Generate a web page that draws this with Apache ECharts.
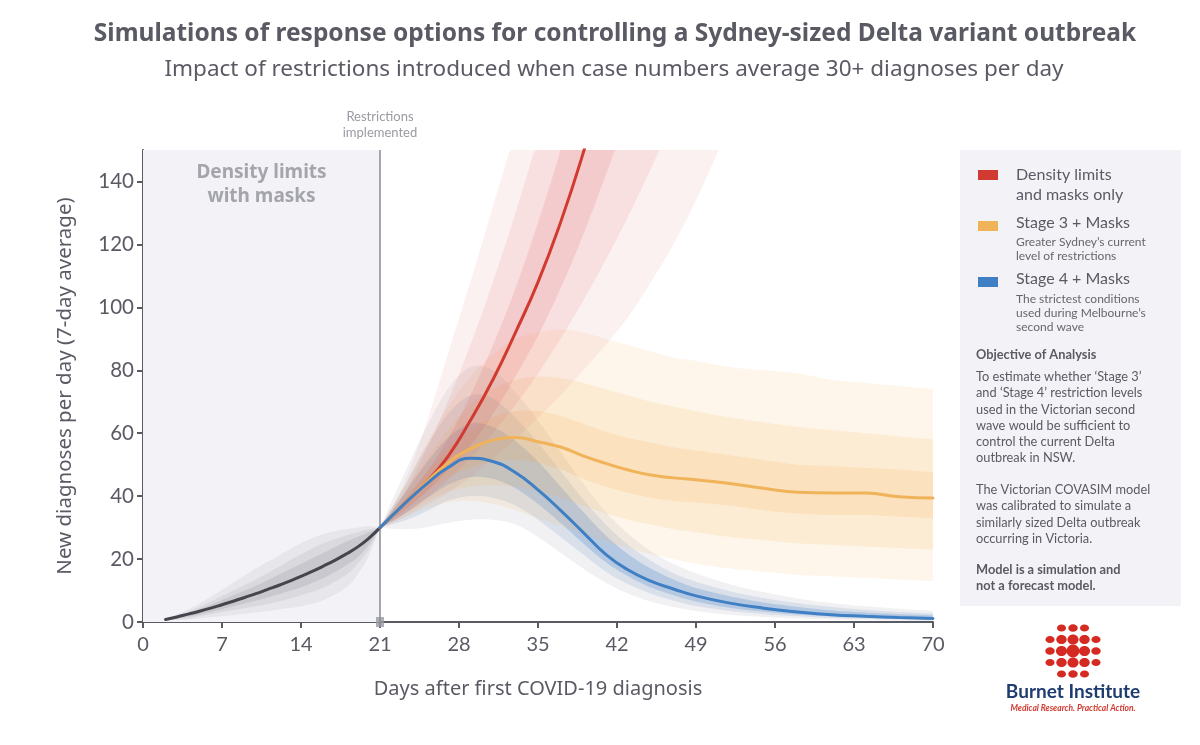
<!DOCTYPE html>
<html><head><meta charset="utf-8">
<script src="https://cdn.jsdelivr.net/npm/echarts@6/dist/echarts.min.js"></script>
<style>html,body{margin:0;padding:0;background:#fff}#c{width:1200px;height:745px}</style>
</head><body><div id="c"></div>
<script>
// ---------- data ----------
const xTicks = [0, 7, 14, 21, 28, 35, 42, 49, 56, 63, 70];
const yTicks = [0, 20, 40, 60, 80, 100, 120, 140];
const restrictionDay = 21;

// pre-restriction period (density limits with masks)
const preDays   = [2,3,4,5,6,7,8,9,10,11,12,13,14,15,16,17,18,19,20,21];
const preMedian = [0.8,1.6,2.5,3.4,4.4,5.5,6.6,7.8,9.0,10.3,11.6,13.0,14.5,16.1,17.8,19.6,21.6,23.8,26.6,30];
const preBandDays = [2,4,6,8,10,12,14,16,18,19,20,21];
const preOuterHi = [1,4,8,12.5,17,21,25,28,29.5,30,30.5,30];
const preOuterLo = [0.5,0.8,1.5,2.2,3,4,5,7,11,15,21,30];
const preMidHi   = [0.9,3.2,6.5,10,13.5,17.5,21.5,25,27.5,28.5,29.5,30];
const preMidLo   = [0.6,1.2,2.5,3.8,5,6.5,8.5,11,15,18.5,23,30];
const preInnerHi = [0.85,2.8,5.5,8.5,11.5,15,18.5,22,25.5,27,28.5,30];
const preInnerLo = [0.7,1.7,3.2,5,6.8,8.8,11,14,18,20.5,24.5,30];

// Density limits and masks only (red)
const redDays     = [21,23,25,27,29,31,33,35,37,39,41,43,45,47,49,51,53];
const redMedian   = [30,37,44,52.5,64,77,92,108,127,149,174,202,232,265,300,340,380];
const redOuterHi  = [30,43,62,85,108,132,157,188,220,255,292,330,370,412,456,500,546];
const redOuterLo  = [30,33,37,41,46,52,58,65,72,80,88,97,108,120,134,150,167];
const redMidHi    = [30,40,54,70,88,108,130,154,180,210,240,272,306,342,380,420,460];
const redMidLo    = [30,34,39,45,52,60,69,79,90,102,115,129,144,160,177,195,214];
const redInnerHi  = [30,38,47,58,72,88,106,127,150,176,204,234,266,300,336,374,414];
const redInnerLo  = [30,35,41,48,56,66,78,91,106,123,142,162,184,208,233,260,288];

// Stage 3 + Masks (orange) and Stage 4 + Masks (blue)
const postDays = [21,23,25,27,29,31,33,35,37,39,41,43,45,47,49,52,55,58,61,64,67,70];
const orMedian  = [30,37,44,50.5,55,57.8,58.6,57.3,55.6,52.8,50.4,48.3,46.7,45.8,45.2,44,42.5,41.2,41,41,39.8,39.4];
const orOuterHi = [30,42,56,68,78,85,90,92,93,92,90,88,86,84,83,81,80,79,77,76,75,74];
const orOuterLo = [30,33,36,38,38.5,37.5,35.5,33,30.5,28,25.5,23.5,21.5,20,18.5,17,16,15,14.5,14,13.5,13];
const orMidHi   = [30,40,51,61,69,74,77,78,77.5,76,74,72,70,68.5,67,65,63.5,62,61,60,59,58];
const orMidLo   = [30,34,38,41.5,43,43.5,43,41.5,39.5,37,34.5,32.5,31,29.5,28.5,27,26,25,24.5,24,23.5,23];
const orInnerHi = [30,38.5,47,55,61,65,67,67,65.5,63,60.5,58.5,57,55.5,54.5,53,51.5,50,49.5,49,48.5,47.5];
const orInnerLo = [30,35.5,41,46,49,51,51.5,50.5,48.5,45.5,43,41,39.5,38.5,38,37,35.5,34.5,34,34,33.5,33];

const blMedian  = [30,37,43.5,49,52,51,47.5,42,35.5,28.5,21.5,16.5,13,10.5,8.3,6,4.4,3.2,2.3,1.8,1.4,1.1];
const blOuterHi = [30,46,61,74,81,80,73,64,54,44,35,28,22.5,18.5,15.5,12,9.5,7.5,6,5,4.2,3.6];
const blOuterLo = [30,29.5,30,31.5,32.5,32.5,31,27,22,17,12.5,9,6.5,4.8,3.5,2.3,1.6,1.1,0.8,0.6,0.4,0.3];
const blMidHi   = [30,42,55,66,72,71,65,57,48,39,31,24.5,19.5,15.5,12.8,9.8,7.6,6,4.8,3.9,3.2,2.7];
const blMidLo   = [30,32,35,38.5,40,39.5,37,32.5,27,21.5,16,12,9,6.8,5.1,3.5,2.5,1.8,1.3,1.0,0.8,0.6];
const blInnerHi = [30,40,50,58.5,63,62,57.5,51,43,35,27.5,21.5,17,13.5,10.8,8.2,6.2,4.8,3.7,3,2.5,2.1];
const blInnerLo = [30,34,39,43.5,46,45.5,42.5,37.5,31.5,25,19,14.5,11,8.5,6.5,4.5,3.3,2.4,1.8,1.4,1.1,0.85];

// ---------- styles ----------
const FONT = 'Lato, "Noto Sans", sans-serif';
const FONT2 = '"Noto Sans", Lato, sans-serif';
const TXT = '#5a5a64';
const C_RED = '#d13a30', C_OR = '#f0b35a', C_BL = '#3f7fc4', C_PRE = '#45454d';

function pairs(days, vals) { return days.map((d, i) => [d, vals[i]]); }

// Catmull-Rom smoothing of pixel points (rendering only)
function smoothPts(pts) {
  const out = [];
  const n = pts.length;
  for (let i = 0; i < n - 1; i++) {
    const p0 = pts[Math.max(i - 1, 0)], p1 = pts[i], p2 = pts[i + 1], p3 = pts[Math.min(i + 2, n - 1)];
    const steps = 10;
    for (let s = 0; s < steps; s++) {
      const t = s / steps, t2 = t * t, t3 = t2 * t;
      const f = (a, b, c, d) => 0.5 * ((2 * b) + (-a + c) * t + (2 * a - 5 * b + 4 * c - d) * t2 + (-a + 3 * b - 3 * c + d) * t3);
      out.push([f(p0[0], p1[0], p2[0], p3[0]), f(p0[1], p1[1], p2[1], p3[1])]);
    }
  }
  out.push(pts[n - 1]);
  return out;
}

function band(days, lo, hi, color) {
  return {
    type: 'custom', silent: true, clip: true, z: 2,
    data: days.map((d, i) => [d, lo[i], hi[i]]),
    encode: { x: 0, y: [1, 2] },
    renderItem: function (params, api) {
      if (params.dataIndex !== 0) return null;
      const cs = params.coordSys;
      const up = [], dn = [];
      for (let i = 0; i < days.length; i++) {
        up.push(api.coord([days[i], hi[i]]));
        dn.push(api.coord([days[i], lo[i]]));
      }
      const pts = smoothPts(up).concat(smoothPts(dn).reverse())
        .map(p => [Math.min(Math.max(p[0], cs.x), cs.x + cs.width), Math.min(Math.max(p[1], cs.y), cs.y + cs.height)]);
      return { type: 'polygon', shape: { points: pts }, style: { fill: color } };
    }
  };
}
function medianLine(days, vals, color, z) {
  return { type: 'line', data: pairs(days, vals), symbol: 'none', smooth: true, silent: true,
    lineStyle: { color: color, width: 3, cap: 'round' }, z: z };
}

const series = [
  { type: 'scatter', data: [[restrictionDay, 0]], symbol: 'rect', symbolSize: [8, 10], z: 1, silent: true,
    itemStyle: { color: '#9a9aa2' },
    markArea: { silent: true, itemStyle: { color: '#f3f2f6' },
      label: { show: true, position: 'insideTop', distance: 11, color: '#a4a4ac', fontFamily: FONT2,
        fontSize: 19, fontWeight: 'bold', lineHeight: 24, formatter: 'Density limits\nwith masks' },
      data: [[{ xAxis: 0 }, { xAxis: restrictionDay }]] },
    markLine: { silent: true, symbol: 'none', lineStyle: { color: '#8a8a92', width: 1.5, type: 'solid' },
      label: { show: true, position: 'end', distance: 9, color: '#9a9aa2', fontFamily: FONT, fontSize: 13,
        lineHeight: 16, formatter: 'Restrictions\nimplemented' },
      data: [{ xAxis: restrictionDay }] } },
  band(preBandDays, preOuterLo, preOuterHi, 'rgba(90,90,100,0.07)'),
  band(preBandDays, preMidLo, preMidHi, 'rgba(90,90,100,0.09)'),
  band(preBandDays, preInnerLo, preInnerHi, 'rgba(80,80,90,0.12)'),
  band(postDays, blOuterLo, blOuterHi, 'rgba(125,130,145,0.11)'),
  band(postDays, blMidLo, blMidHi, 'rgba(85,125,180,0.15)'),
  band(postDays, blInnerLo, blInnerHi, 'rgba(50,115,200,0.22)'),
  band(postDays, orOuterLo, orOuterHi, 'rgba(245,180,90,0.12)'),
  band(postDays, orMidLo, orMidHi, 'rgba(245,175,80,0.14)'),
  band(postDays, orInnerLo, orInnerHi, 'rgba(240,170,70,0.16)'),
  band(redDays, redOuterLo, redOuterHi, 'rgba(225,95,100,0.09)'),
  band(redDays, redMidLo, redMidHi, 'rgba(225,90,95,0.11)'),
  band(redDays, redInnerLo, redInnerHi, 'rgba(220,80,85,0.14)'),
  medianLine(preDays, preMedian, C_PRE, 5),
  medianLine(redDays, redMedian, C_RED, 5),
  medianLine(postDays, orMedian, C_OR, 6),
  medianLine(postDays, blMedian, C_BL, 7)
];

// ---------- graphic: title, legend panel, logo ----------
const graphic = [
  { type: 'text', x: 615, y: 34, style: { text: 'Simulations of response options for controlling a Sydney-sized Delta variant outbreak',
    font: 'bold 24.5px ' + FONT2, fill: TXT, align: 'center', verticalAlign: 'middle' } },
  { type: 'text', x: 614, y: 70, style: { text: 'Impact of restrictions introduced when case numbers average 30+ diagnoses per day',
    font: '22.5px ' + FONT2, fill: TXT, align: 'center', verticalAlign: 'middle' } },
  { type: 'rect', shape: { x: 960, y: 150, width: 221, height: 456 }, style: { fill: '#f3f2f6' }, z: -1 },
  { type: 'rect', shape: { x: 978, y: 170, width: 20, height: 10 }, style: { fill: C_RED } },
  { type: 'rect', shape: { x: 978, y: 221, width: 20, height: 10 }, style: { fill: C_OR } },
  { type: 'rect', shape: { x: 978, y: 277, width: 20, height: 10 }, style: { fill: C_BL } },
  { type: 'text', x: 1016, y: 165, style: { text: 'Density limits\nand masks only', font: '16px ' + FONT, lineHeight: 20, fill: TXT } },
  { type: 'text', x: 1016, y: 215, style: { text: 'Stage 3 + Masks', font: '16px ' + FONT, fill: TXT } },
  { type: 'text', x: 1016, y: 235, style: { text: 'Greater Sydney\u2019s current\nlevel of restrictions', font: '12px ' + FONT, lineHeight: 14, fill: '#66666e' } },
  { type: 'text', x: 1016, y: 271, style: { text: 'Stage 4 + Masks', font: '16px ' + FONT, fill: TXT } },
  { type: 'text', x: 1016, y: 292, style: { text: 'The strictest conditions\nused during Melbourne\u2019s\nsecond wave', font: '12px ' + FONT, lineHeight: 14, fill: '#66666e' } },
  { type: 'text', x: 976, y: 348, style: { text: 'Objective of Analysis', font: 'bold 12.8px ' + FONT, fill: TXT } },
  { type: 'text', x: 976, y: 369, style: { text: 'To estimate whether \u2018Stage 3\u2019\nand \u2018Stage 4\u2019 restriction levels\nused in the Victorian second\nwave would be sufficient to\ncontrol the current Delta\noutbreak in NSW.',
    font: '12.8px ' + FONT, lineHeight: 16.2, fill: TXT } },
  { type: 'text', x: 976, y: 482, style: { text: 'The Victorian COVASIM model\nwas calibrated to simulate a\nsimilarly sized Delta outbreak\noccurring in Victoria.',
    font: '12.8px ' + FONT, lineHeight: 16.2, fill: TXT } },
  { type: 'text', x: 976, y: 562, style: { text: 'Model is a simulation and\nnot a forecast model.', font: 'bold 12.8px ' + FONT, lineHeight: 16.2, fill: TXT } },
  { type: 'text', x: 1073, y: 692, style: { text: 'Burnet Institute', font: 'bold 19px ' + FONT, fill: '#1f3c70', align: 'center', verticalAlign: 'middle' } },
  { type: 'text', x: 1073, y: 708, style: { text: 'Medical Research. Practical Action.', font: 'italic bold 8.5px ' + FONT, fill: '#d13a30', align: 'center', verticalAlign: 'middle' } }
];
// logo dot sphere (decoration)
const logoCx = 1073, logoCy = 651;
for (let r = -2; r <= 2; r++) {
  for (let c = -2; c <= 2; c++) {
    const dist = Math.sqrt(r * r + c * c);
    if (dist > 2.3) continue;
    graphic.push({ type: 'ellipse', shape: { cx: logoCx + c * 11.5, cy: logoCy + r * 11.5,
      rx: 6.4 * (1 - dist * 0.13), ry: 6.4 * (1 - dist * 0.2) }, style: { fill: '#d42a22' } });
  }
}

const option = {
  animation: false,
  backgroundColor: '#ffffff',
  textStyle: { fontFamily: FONT },
  grid: { left: 143, right: 267, top: 150, bottom: 123, containLabel: false },
  xAxis: {
    type: 'value', min: 0, max: 70, interval: 7,
    name: 'Days after first COVID-19 diagnosis', nameLocation: 'middle', nameGap: 57,
    nameTextStyle: { fontSize: 20, color: TXT, fontFamily: FONT2 },
    axisLine: { lineStyle: { color: '#5a5a64', width: 2 } },
    axisTick: { show: true, length: 6, lineStyle: { color: '#5a5a64', width: 2 }, customValues: xTicks },
    axisLabel: { fontSize: 20, color: TXT, margin: 13, fontFamily: FONT, customValues: xTicks },
    splitLine: { show: false }
  },
  yAxis: {
    type: 'value', min: 0, max: 150, interval: 20,
    name: 'New diagnoses per day (7-day average)', nameLocation: 'middle', nameGap: 67,
    nameTextStyle: { fontSize: 20.5, color: TXT, fontFamily: FONT2 },
    axisLine: { show: true, lineStyle: { color: '#5a5a64', width: 2 } },
    axisTick: { show: true, length: 6, lineStyle: { color: '#5a5a64', width: 2 }, customValues: yTicks },
    axisLabel: { fontSize: 20.5, color: TXT, margin: 9, fontFamily: FONT, customValues: yTicks,
      formatter: v => (v > 140 ? '' : String(v)) },
    splitLine: { show: false }
  },
  series: series,
  graphic: graphic
};

const chart = echarts.init(document.getElementById('c'), null, { renderer: 'canvas' });
chart.setOption(option);
</script>
</body></html>
